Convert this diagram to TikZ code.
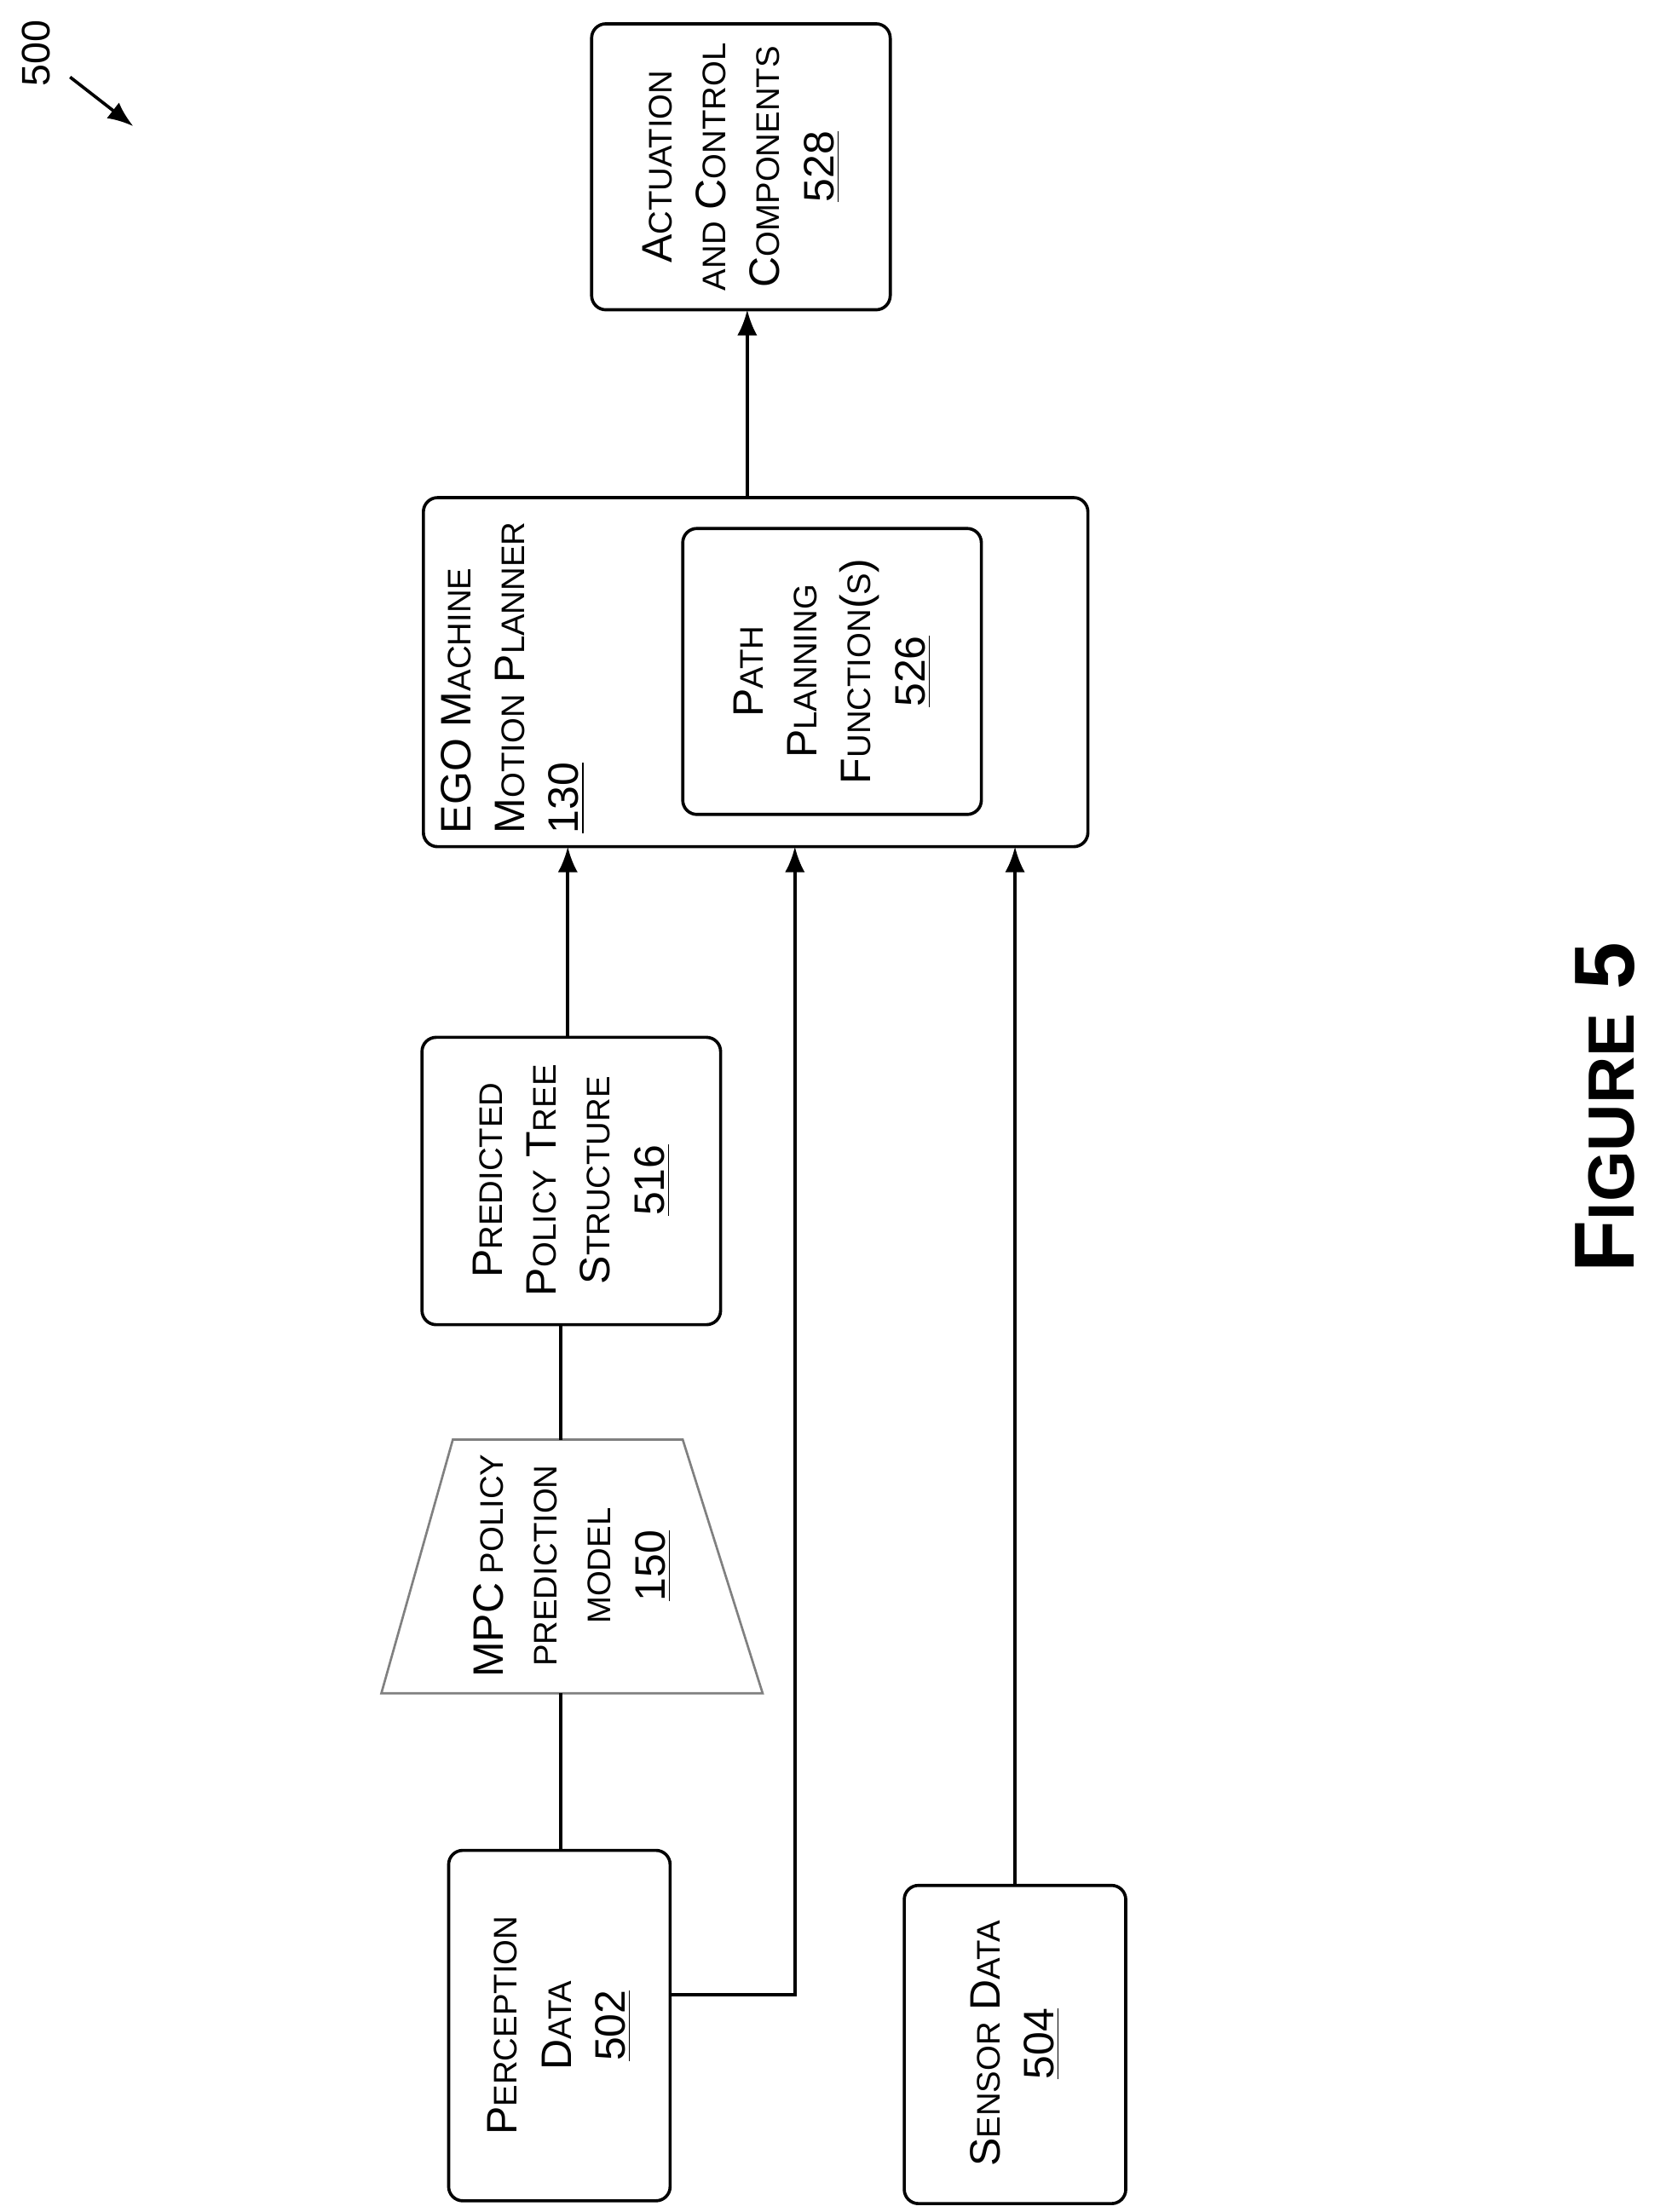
\documentclass[tikz,border=0pt]{standalone}
\usepackage{fontspec}
\setmainfont{Liberation Sans}
\newcommand{\Sc}[2]{{\fontsize{15}{18}\selectfont #1}{\fontsize{11.5}{18}\selectfont #2}}
\newcommand{\Num}[1]{{\fontsize{15}{18}\selectfont\underline{#1}}}
\begin{document}
\begin{tikzpicture}[x=0.4935pt,y=-0.4935pt,
  box/.style={draw,line width=1.1pt,rounded corners=5pt},
  lbl/.style={rotate=90,align=center,font=\fontsize{15}{19}\selectfont,inner sep=0pt},
  ln/.style={line width=1.1pt},
  arr/.style={ln,-{Latex[length=9pt,width=7pt]}}]
\useasboundingbox (0,0) rectangle (1188,1578);
\usetikzlibrary{arrows.meta}
% boxes
\draw[box] (422,17) rectangle (635,221);
\node[lbl] (act) at (528.5,119) {\Sc{A}{CTUATION}\\\Sc{}{AND} \Sc{C}{ONTROL}\\\Sc{C}{OMPONENTS}\\\Num{528}};
\coordinate (actb) at (533,221);
\draw[box] (302,355) rectangle (776,604);
\coordinate (egot) at (533,355);
\node[lbl,anchor=north west,align=left] (ego) at (314,595) {\Sc{EGO M}{ACHINE}\\\Sc{M}{OTION} \Sc{P}{LANNER}\\\Num{130}};
\draw[box] (487,377) rectangle (700,581);
\node[lbl] (path) at (593.5,479) {\Sc{P}{ATH}\\\Sc{P}{LANNING}\\\Sc{F}{UNCTION}(\Sc{}{S})\\\Num{526}};
\draw[box] (301,740) rectangle (514,945);
\node[lbl] (pred) at (407.5,842) {\Sc{P}{REDICTED}\\\Sc{P}{OLICY} \Sc{T}{REE}\\\Sc{S}{TRUCTURE}\\\Num{516}};
\draw[line width=0.8pt,gray] (323,1027) -- (487,1027) -- (544,1208) -- (272,1208) -- cycle;
\node[lbl] (mpc) at (408,1117) {\Sc{MPC}{ POLICY}\\\Sc{}{PREDICTION}\\\Sc{}{MODEL}\\\Num{150}};
\draw[box] (320,1320) rectangle (478,1570);
\node[lbl] (perc) at (399,1445) {\Sc{P}{ERCEPTION}\\\Sc{D}{ATA}\\\Num{502}};
\draw[box] (645,1345) rectangle (803,1572);
\node[lbl] (sens) at (724,1458) {\Sc{S}{ENSOR} \Sc{D}{ATA}\\\Num{504}};
% connectors
\draw[ln] (400,1320) -- (400,1208);
\draw[ln] (400,1027) -- (400,945);
\draw[arr] (405,740) -- (405,604);
\draw[arr] (478,1423) -- (567,1423) -- (567,604);
\draw[arr] (724,1345) -- (724,604);
\draw[arr] (actb |- egot) -- (actb);
% label 500
\node[rotate=90,font=\fontsize{14}{16}\selectfont] (n500) at (26,38) {500};
\coordinate (a500) at (95,90);
\draw[arr] (50,55) -- (a500);
\node[rotate=90,font=\bfseries\fontsize{30}{34}\selectfont] (fig) at (1145,790) {F{\fontsize{23}{34}\selectfont IGURE} 5};
\end{tikzpicture}
\end{document}
